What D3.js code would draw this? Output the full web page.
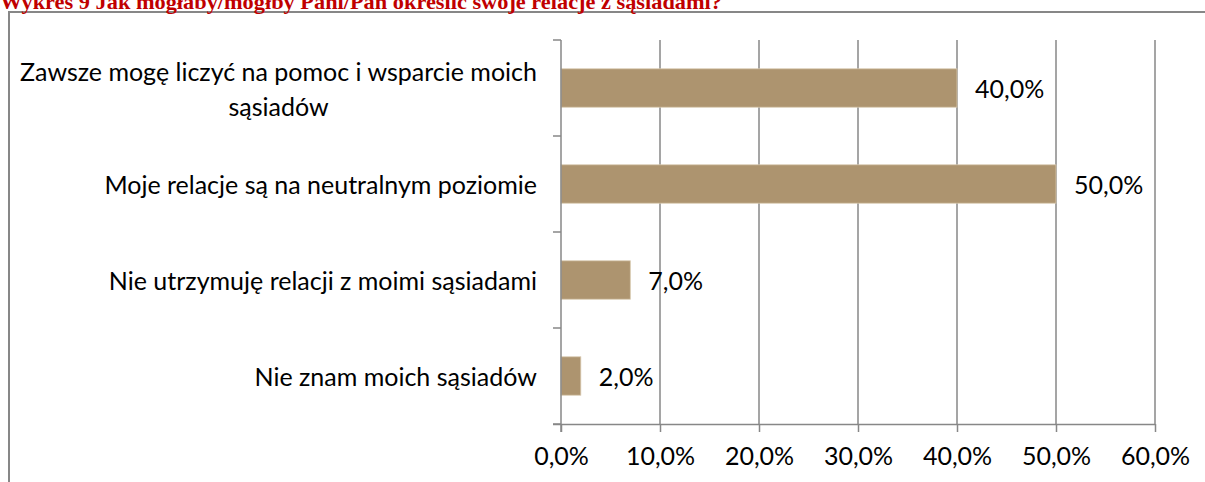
<!DOCTYPE html>
<html>
<head>
<meta charset="utf-8">
<script src="https://cdn.jsdelivr.net/npm/d3@7"></script>
<style>
  body { margin: 0; background: #fff; }
  svg { display: block; }
</style>
</head>
<body>
<svg id="chart" width="1205" height="482"></svg>
<script>
const title = "Wykres 9 Jak mogłaby/mógłby Pani/Pan określić swoje relacje z sąsiadami?";
const categories = [
  ["Zawsze mogę liczyć na pomoc i wsparcie moich", "sąsiadów"],
  ["Moje relacje są na neutralnym poziomie"],
  ["Nie utrzymuję relacji z moimi sąsiadami"],
  ["Nie znam moich sąsiadów"]
];
const values = [40, 50, 7, 2];
const xTicks = [0, 10, 20, 30, 40, 50, 60];

const svg = d3.select("#chart");
const gridColor = "#878787";
const font = "Lato, 'Open Sans', sans-serif";
const fontSize = "25px";

// outer frame
svg.append("path")
  .attr("d", "M9,482 V12 H1205")
  .attr("fill", "none")
  .attr("stroke", gridColor)
  .attr("stroke-width", 2);

// title, cut off at the top edge
svg.append("text")
  .attr("x", 0)
  .attr("y", 9)
  .attr("textLength", 722)
  .attr("lengthAdjust", "spacingAndGlyphs")
  .style("font-family", "'Liberation Serif', 'DejaVu Serif', serif")
  .style("font-weight", "bold")
  .style("font-size", "21px")
  .style("fill", "#C00000")
  .text(title);

const plotLeft = 561, plotRight = 1155, plotTop = 40, plotBottom = 424;

const x = d3.scaleLinear().domain([0, 60]).range([plotLeft, plotRight]);
const y = d3.scaleBand()
  .domain(d3.range(categories.length))
  .range([plotTop, plotBottom])
  .paddingInner(0.6)
  .paddingOuter(0.3);

// vertical gridlines
svg.append("g")
  .selectAll("line")
  .data(xTicks.slice(1))
  .join("line")
  .attr("x1", (d) => x(d))
  .attr("x2", (d) => x(d))
  .attr("y1", plotTop)
  .attr("y2", plotBottom)
  .attr("stroke", gridColor)
  .attr("stroke-width", 1.5);

// bars
svg.append("g")
  .selectAll("rect")
  .data(values)
  .join("rect")
  .attr("x", x(0))
  .attr("y", (d, i) => y(i))
  .attr("width", (d) => x(d) - x(0))
  .attr("height", y.bandwidth())
  .attr("fill", "#AD946F")
  .attr("stroke", "#D8C9B0")
  .attr("stroke-width", 0.8);

// X axis
const xAxis = svg.append("g")
  .attr("transform", `translate(0,${plotBottom})`)
  .call(d3.axisBottom(x).tickValues(xTicks).tickSize(8).tickPadding(15)
    .tickFormat((d) => d.toFixed(1).replace(".", ",") + "%"));
xAxis.select(".domain").attr("d", `M${plotLeft - 8},0.5H${plotRight}`)
  .attr("stroke", gridColor).attr("stroke-width", 1.5);
xAxis.selectAll(".tick line").attr("stroke", gridColor).attr("stroke-width", 1.5);
xAxis.selectAll(".tick text")
  .style("font-family", font)
  .style("font-size", fontSize)
  .style("fill", "#000");

// Y axis: boundaries between categories
const yBounds = d3.range(categories.length + 1).map((i) => plotTop + i * y.step());
svg.append("line")
  .attr("x1", plotLeft).attr("x2", plotLeft)
  .attr("y1", plotTop).attr("y2", plotBottom + 8)
  .attr("stroke", gridColor).attr("stroke-width", 1.5);
svg.append("g")
  .selectAll("line")
  .data(yBounds)
  .join("line")
  .attr("x1", plotLeft - 8).attr("x2", plotLeft)
  .attr("y1", (d) => d).attr("y2", (d) => d)
  .attr("stroke", gridColor).attr("stroke-width", 1.5);

// category labels: block right-aligned, lines centred within it
const lineH = 35;
svg.append("g")
  .attr("class", "cat-labels")
  .selectAll("text")
  .data(categories)
  .join("text")
  .attr("text-anchor", "middle")
  .attr("dominant-baseline", "central")
  .style("font-family", font)
  .style("font-size", fontSize)
  .style("fill", "#000")
  .each(function (lines, i) {
    const cy = y(i) + y.bandwidth() / 2 - ((lines.length - 1) * lineH) / 2;
    const t = d3.select(this);
    lines.forEach((l, j) => {
      t.append("tspan").attr("x", 0).attr("y", cy + j * lineH).text(l);
    });
    const w = this.getBBox().width;
    t.selectAll("tspan").attr("x", 537 - w / 2);
  });

// value labels
svg.append("g")
  .selectAll("text")
  .data(values)
  .join("text")
  .attr("x", (d) => x(d) + 18)
  .attr("y", (d, i) => y(i) + y.bandwidth() / 2)
  .attr("dominant-baseline", "central")
  .style("font-family", font)
  .style("font-size", fontSize)
  .style("fill", "#000")
  .text((d) => d.toFixed(1).replace(".", ",") + "%");
</script>
</body>
</html>
